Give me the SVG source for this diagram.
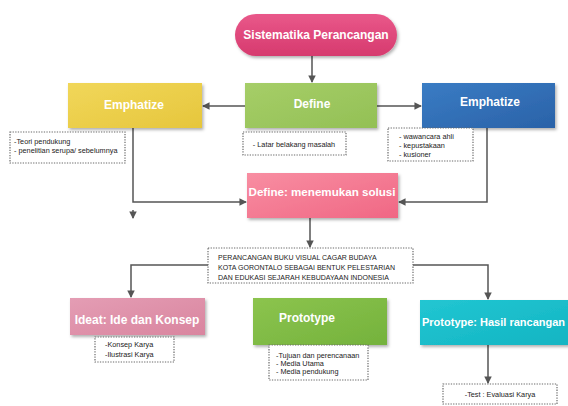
<svg xmlns="http://www.w3.org/2000/svg" width="568" height="406" viewBox="0 0 568 406">
<defs>
<filter id="sh" x="-10%" y="-10%" width="125%" height="135%"><feDropShadow dx="1.5" dy="2" stdDeviation="1.5" flood-color="#000" flood-opacity="0.3"/></filter>
<linearGradient id="gPill" x1="0" y1="0" x2="0" y2="1"><stop offset="0" stop-color="#e9588a"/><stop offset="1" stop-color="#d63a6e"/></linearGradient>
<linearGradient id="gYel" x1="0" y1="0" x2="1" y2="1"><stop offset="0" stop-color="#f1d75a"/><stop offset="1" stop-color="#e6c63c"/></linearGradient>
<linearGradient id="gDef" x1="0" y1="0" x2="1" y2="1"><stop offset="0" stop-color="#a6ce68"/><stop offset="1" stop-color="#93c055"/></linearGradient>
<linearGradient id="gBlue" x1="0" y1="0" x2="1" y2="1"><stop offset="0" stop-color="#3a7cc4"/><stop offset="1" stop-color="#2a62a8"/></linearGradient>
<linearGradient id="gSol" x1="0" y1="0" x2="1" y2="1"><stop offset="0" stop-color="#f88ea2"/><stop offset="1" stop-color="#f06784"/></linearGradient>
<linearGradient id="gIde" x1="0" y1="0" x2="1" y2="1"><stop offset="0" stop-color="#e49db4"/><stop offset="1" stop-color="#d9859f"/></linearGradient>
<linearGradient id="gPro" x1="0" y1="0" x2="1" y2="1"><stop offset="0" stop-color="#8cc44e"/><stop offset="1" stop-color="#74b23c"/></linearGradient>
<linearGradient id="gCy" x1="0" y1="0" x2="1" y2="1"><stop offset="0" stop-color="#22c6d2"/><stop offset="1" stop-color="#12b4c2"/></linearGradient>
<marker id="ar" viewBox="0 0 8 8" refX="7" refY="4" markerWidth="5" markerHeight="5" orient="auto"><path d="M0,0 L8,4 L0,8 z" fill="#555"/></marker>
</defs>
<style>
.lbl{font-family:"Liberation Sans",Arial,sans-serif;font-weight:bold;font-size:12px;fill:#fff;text-anchor:middle}
.lbs{font-family:"Liberation Sans",Arial,sans-serif;font-weight:bold;font-size:11px;fill:#fff;text-anchor:start}
.sm{font-family:"Liberation Sans",Arial,sans-serif;font-size:7.3px;fill:#222}
.smc{font-family:"Liberation Sans",Arial,sans-serif;font-size:7.3px;fill:#222;text-anchor:middle}
.dot{fill:#fff;stroke:#6a6a6a;stroke-width:1.2;stroke-dasharray:1.3 1.3}
.con{fill:none;stroke:#555;stroke-width:1.5;marker-end:url(#ar)}
</style>
<rect width="568" height="406" fill="#fff"/>

<g id="connectors">
<path class="con" d="M312 56 V82"/>
<path class="con" d="M245 106 H203"/>
<path class="con" d="M377 106 H421"/>
<path class="con" d="M133 128 V202 H246"/>
<path class="con" d="M133 210 V218"/>
<path class="con" d="M487 128 V202 H399"/>
<path class="con" d="M310 218 V247"/>
<path class="con" d="M208 265 H131 V297"/>
<path class="con" d="M413 265 H488 V299"/>
<path class="con" d="M488 345 V383"/>
</g>

<g id="n-sistematika">
<rect x="235" y="14" width="162" height="42" rx="21" fill="url(#gPill)" filter="url(#sh)"/>
<text class="lbl" x="316" y="39">Sistematika Perancangan</text>
</g>

<g id="n-emphatize-left">
<rect x="68" y="83" width="134" height="45" fill="url(#gYel)" filter="url(#sh)"/>
<text class="lbl" x="134" y="109">Emphatize</text>
</g>
<g id="n-note-teori">
<rect class="dot" x="10" y="132" width="115" height="31"/>
<text class="sm" x="14" y="144">-Teori pendukung</text>
<text class="sm" x="14" y="153">- penelitian serupa/ sebelumnya</text>
</g>

<g id="n-define">
<rect x="245" y="83" width="132" height="45" fill="url(#gDef)" filter="url(#sh)"/>
<text class="lbl" x="312" y="108">Define</text>
</g>
<g id="n-note-latar">
<rect class="dot" x="243" y="132" width="103" height="23"/>
<text class="smc" x="294" y="147">- Latar belakang masalah</text>
</g>

<g id="n-emphatize-right">
<rect x="422" y="83" width="133" height="45" fill="url(#gBlue)" filter="url(#sh)"/>
<text class="lbl" x="490" y="106">Emphatize</text>
</g>
<g id="n-note-wawancara">
<rect class="dot" x="388" y="128" width="85" height="33"/>
<text class="sm" x="399" y="139">- wawancara ahli</text>
<text class="sm" x="399" y="148">- kepustakaan</text>
<text class="sm" x="399" y="157">- kusioner</text>
</g>

<g id="n-solusi">
<rect x="247" y="173" width="151" height="45" fill="url(#gSol)" filter="url(#sh)"/>
<text class="lbl" x="322" y="196" style="font-size:11.6px">Define: menemukan solusi</text>
</g>

<g id="n-judul">
<rect class="dot" x="208" y="248" width="205" height="35"/>
<text class="sm" x="218" y="260" style="font-size:7px">PERANCANGAN BUKU VISUAL CAGAR BUDAYA</text>
<text class="sm" x="218" y="270" style="font-size:7px">KOTA GORONTALO SEBAGAI BENTUK PELESTARIAN</text>
<text class="sm" x="218" y="280" style="font-size:7px">DAN EDUKASI SEJARAH KEBUDAYAAN INDONESIA</text>
</g>

<g id="n-ideat">
<rect x="70" y="298" width="135" height="37" fill="url(#gIde)" filter="url(#sh)"/>
<text class="lbl" x="137" y="324">Ideat: Ide dan Konsep</text>
</g>
<g id="n-note-konsep">
<rect class="dot" x="95" y="337" width="79" height="25"/>
<text class="sm" x="105" y="347">-Konsep Karya</text>
<text class="sm" x="105" y="357">-Ilustrasi Karya</text>
</g>

<g id="n-prototype">
<rect x="253" y="298" width="134" height="47" fill="url(#gPro)" filter="url(#sh)"/>
<text class="lbl" x="307" y="322">Prototype</text>
</g>
<g id="n-note-tujuan">
<rect class="dot" x="269" y="345" width="99" height="35"/>
<text class="sm" x="276" y="358">-Tujuan dan perencanaan</text>
<text class="sm" x="276" y="366">- Media Utama</text>
<text class="sm" x="276" y="374">- Media pendukung</text>
</g>

<g id="n-hasil">
<rect x="420" y="300" width="160" height="45" fill="url(#gCy)" filter="url(#sh)"/>
<text class="lbs" x="422" y="326">Prototype: Hasil rancangan</text>
</g>
<g id="n-note-test">
<rect class="dot" x="443" y="384" width="114" height="20"/>
<text class="smc" x="500" y="397">-Test : Evaluasi Karya</text>
</g>
</svg>
